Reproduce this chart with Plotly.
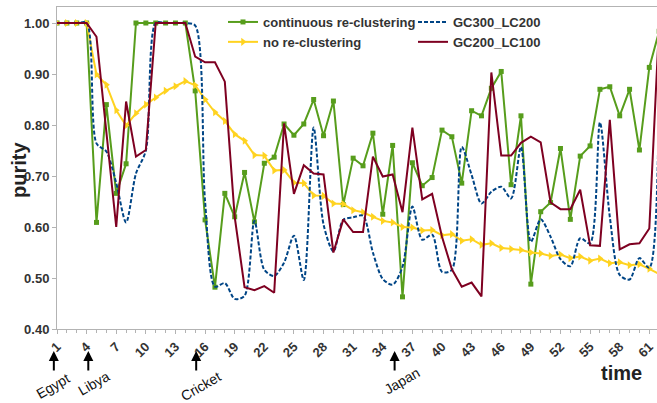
import plotly.graph_objects as go

# ---------------- data ----------------
time = list(range(1, 63))

continuous = [1.00, 1.00, 1.00, 1.00, 0.609, 0.840, 0.666, 0.724, 1.00, 1.00,
              1.00, 1.00, 1.00, 1.00, 0.867, 0.614, 0.482, 0.666, 0.620, 0.707,
              0.610, 0.725, 0.737, 0.802, 0.780, 0.802, 0.850, 0.779, 0.847, 0.644,
              0.735, 0.720, 0.784, 0.625, 0.760, 0.463, 0.726, 0.681, 0.697, 0.790,
              0.777, 0.686, 0.828, 0.818, 0.872, 0.905, 0.683, 0.818, 0.488, 0.630,
              0.648, 0.754, 0.615, 0.739, 0.759, 0.870, 0.875, 0.818, 0.870, 0.751,
              0.913, 0.984]

no_reclustering = [1.00, 1.00, 1.00, 1.00, 0.899, 0.879, 0.829, 0.799, 0.823, 0.840,
                   0.854, 0.867, 0.876, 0.886, 0.878, 0.850, 0.825, 0.808, 0.782, 0.769,
                   0.741, 0.740, 0.711, 0.712, 0.687, 0.686, 0.662, 0.661, 0.646, 0.645,
                   0.633, 0.629, 0.620, 0.612, 0.609, 0.600, 0.599, 0.593, 0.594, 0.584,
                   0.586, 0.573, 0.576, 0.565, 0.568, 0.559, 0.557, 0.555, 0.550, 0.548,
                   0.543, 0.546, 0.539, 0.542, 0.534, 0.538, 0.529, 0.531, 0.525, 0.527,
                   0.518, 0.508]

gc300_lc200 = [1.00, 1.00, 1.00, 1.00, 0.764, 0.748, 0.686, 0.609, 0.705, 0.750,
               1.00, 1.00, 1.00, 1.00, 0.995, 0.650, 0.483, 0.490, 0.459, 0.465,
               0.612, 0.516, 0.504, 0.530, 0.583, 0.496, 0.795, 0.605, 0.552, 0.614,
               0.619, 0.622, 0.550, 0.498, 0.487, 0.522, 0.640, 0.575, 0.585, 0.512,
               0.516, 0.757, 0.702, 0.646, 0.669, 0.679, 0.656, 0.757, 0.571, 0.615,
               0.581, 0.537, 0.523, 0.578, 0.568, 0.805, 0.620, 0.506, 0.497, 0.539,
               0.520, 0.980]

gc200_lc100 = [1.00, 1.00, 1.00, 1.00, 0.973, 0.790, 0.600, 0.846, 0.738, 0.751,
               1.00, 1.00, 1.00, 1.00, 0.934, 0.923, 0.923, 0.885, 0.620, 0.482,
               0.476, 0.484, 0.471, 0.803, 0.665, 0.721, 0.705, 0.703, 0.550, 0.615,
               0.590, 0.590, 0.738, 0.699, 0.703, 0.629, 0.795, 0.654, 0.665, 0.581,
               0.517, 0.483, 0.491, 0.464, 0.903, 0.740, 0.740, 0.765, 0.777, 0.766,
               0.648, 0.635, 0.635, 0.673, 0.564, 0.563, 0.810, 0.556, 0.566, 0.568,
               0.597, 1.00]

x_tick_labels = ["1", "4", "7", "10", "13", "16", "19", "22", "25", "28", "31",
                 "34", "37", "40", "43", "46", "49", "52", "55", "58", "61"]
y_tick_values = [0.40, 0.50, 0.60, 0.70, 0.80, 0.90, 1.00]

event_names = ["Egypt", "Libya", "Cricket", "Japan"]
event_times = [0.68, 4.17, 15.1, 35.2]

# ---------------- styling ----------------
FONT = "Liberation Sans"
TXT = "#333333"
AXIS = "#b3b3b3"
X_RANGE = [1, 61.78]
Y_RANGE = [0.40, 1.0314]

fig = go.Figure()
fig.add_trace(go.Scatter(x=time, y=continuous, name="continuous re-clustering",
                         mode="lines+markers", line=dict(color="#579d1c", width=2),
                         marker=dict(symbol="square", size=5, color="#579d1c"),
                         legend="legend"))
fig.add_trace(go.Scatter(x=time, y=no_reclustering, name="no re-clustering",
                         mode="lines+markers", line=dict(color="#ffd320", width=2),
                         marker=dict(symbol="triangle-right", size=7, color="#ffd320"),
                         legend="legend"))
fig.add_trace(go.Scatter(x=time, y=gc300_lc200, name="GC300_LC200",
                         mode="lines", line=dict(color="#004586", width=2, dash="4px,2px",
                                                 shape="spline", smoothing=0.8),
                         legend="legend2"))
fig.add_trace(go.Scatter(x=time, y=gc200_lc100, name="GC200_LC100",
                         mode="lines", line=dict(color="#7e0021", width=2),
                         legend="legend2"))

W, H = 657, 403
ML, MR, MT, MB = 57, 0, 7, 74
PW, PH = W - ML - MR, H - MT - MB


def px_to_paper_x(px):
    return (px - ML) / PW


def px_to_paper_y(py):
    return (H - MB - py) / PH


def data_to_paper_x(x):
    return (x - X_RANGE[0]) / (X_RANGE[1] - X_RANGE[0])


annotations = []
label_offsets = [(-1, 35), (6, 32), (5, 35), (7, 30)]
for name, t, (dx, dy) in zip(event_names, event_times, label_offsets):
    xp = data_to_paper_x(t)
    annotations.append(dict(x=xp, y=px_to_paper_y(351), xref="paper", yref="paper",
                            text="", showarrow=True, arrowhead=2, arrowsize=1,
                            arrowwidth=2, arrowcolor="#000000", ax=0, ay=21,
                            axref="pixel", ayref="pixel"))
    xpix = ML + xp * PW
    annotations.append(dict(x=px_to_paper_x(xpix + dx), y=px_to_paper_y(351 + dy),
                            xref="paper", yref="paper", text=name, showarrow=False,
                            textangle=-30, xanchor="center", yanchor="middle",
                            font=dict(family=FONT, size=14, color="#111111")))

annotations.append(dict(x=px_to_paper_x(19), y=px_to_paper_y(170), xref="paper",
                        yref="paper", text="purity", showarrow=False, textangle=-90,
                        xanchor="center", yanchor="middle",
                        font=dict(family=FONT, size=20, color="#222222", weight="bold")))
annotations.append(dict(x=px_to_paper_x(621), y=px_to_paper_y(373), xref="paper",
                        yref="paper", text="time", showarrow=False,
                        xanchor="center", yanchor="middle",
                        font=dict(family=FONT, size=20, color="#222222", weight="bold")))

legend_font = dict(family=FONT, size=13, color=TXT, weight="bold")
fig.update_layout(
    width=W, height=H,
    margin=dict(l=ML, r=MR, t=MT, b=MB, pad=0),
    paper_bgcolor="white", plot_bgcolor="white",
    showlegend=True,
    legend=dict(x=px_to_paper_x(223), y=1.0, xanchor="left", yanchor="top",
                bgcolor="rgba(0,0,0,0)", font=legend_font, tracegroupgap=0),
    legend2=dict(x=px_to_paper_x(413), y=1.0, xanchor="left", yanchor="top",
                 bgcolor="rgba(0,0,0,0)", font=legend_font, tracegroupgap=0),
    annotations=annotations,
    xaxis=dict(range=X_RANGE, tickmode="array",
               tickvals=[int(s) for s in x_tick_labels], ticktext=x_tick_labels,
               tickangle=-45, ticks="outside", ticklen=4, tickcolor=AXIS,
               showline=True, linecolor=AXIS, linewidth=1, mirror=True,
               showgrid=False, zeroline=False,
               tickfont=dict(family=FONT, size=13, color=TXT, weight="bold"),
               minor=dict(tick0=1, dtick=1, ticks="outside", ticklen=3,
                          tickcolor=AXIS, showgrid=False)),
    yaxis=dict(range=Y_RANGE, tickmode="array", tickvals=y_tick_values,
               tickformat=".2f", ticks="outside", ticklen=4, tickcolor=AXIS,
               showline=True, linecolor=AXIS, linewidth=1, mirror=False,
               showgrid=False, zeroline=False,
               tickfont=dict(family=FONT, size=13, color=TXT, weight="bold")),
)

fig.write_html("out.html")
